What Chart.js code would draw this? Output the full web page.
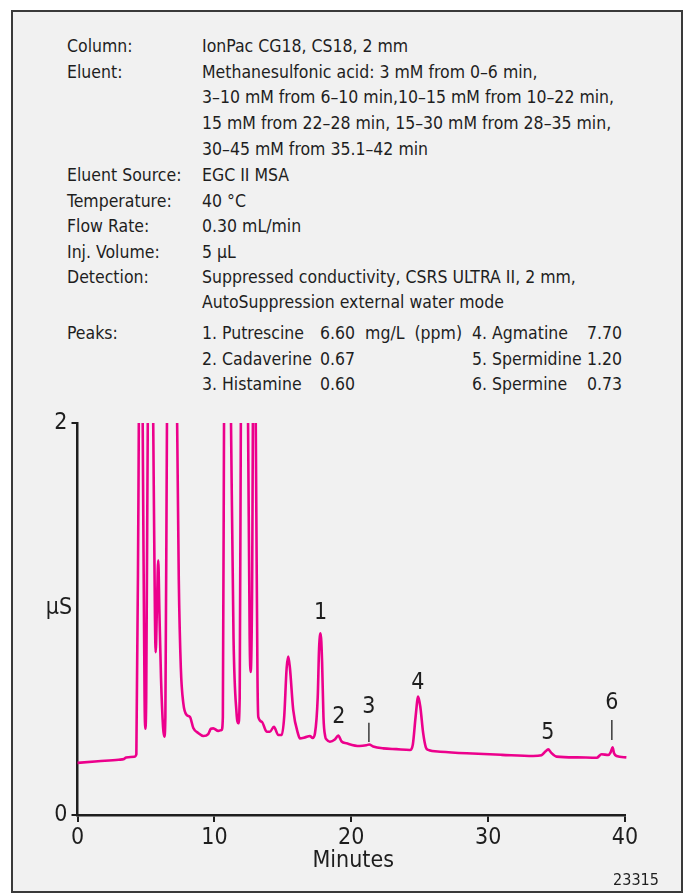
<!DOCTYPE html>
<html>
<head>
<meta charset="utf-8">
<script src="https://cdn.jsdelivr.net/npm/chart.js@4.4.1/dist/chart.umd.min.js"></script>
<style>
    html, body { margin: 0; padding: 0; background: #fff; }
    body { width: 686px; height: 894px; position: relative; overflow: hidden;
           font-family: 'Liberation Sans Narrow', 'DejaVu Sans Condensed', 'Roboto', sans-serif; color: #1e1e1e; }
    .frame { position: absolute; left: 11px; top: 10px; width: 668px; height: 879px;
             border: 2px solid #3a3a3a; background: #f1f1f1; }
    .info { position: absolute; font-size: 17.5px; line-height: 25.5px; white-space: nowrap; }
    .row { position: absolute; }
    #chartBox { position: absolute; left: 0; top: 0; width: 686px; height: 894px; }
</style>
</head>
<body>
<div class="frame"></div>

<div class="info" style="left:67px; top:34px;">
    <div class="row" style="top:0">Column:</div>
    <div class="row" style="top:25.5px">Eluent:</div>
    <div class="row" style="top:129px">Eluent Source:</div>
    <div class="row" style="top:154.5px">Temperature:</div>
    <div class="row" style="top:180px">Flow Rate:</div>
    <div class="row" style="top:205.5px">Inj. Volume:</div>
    <div class="row" style="top:231px">Detection:</div>
    <div class="row" style="top:287px">Peaks:</div>
</div>
<div class="info" style="left:202px; top:34px;">
    <div class="row" style="top:0">IonPac CG18, CS18, 2 mm</div>
    <div class="row" style="top:25.5px">Methanesulfonic acid: 3 mM from 0–6 min,</div>
    <div class="row" style="top:51px">3–10 mM from 6–10 min,10–15 mM from 10–22 min,</div>
    <div class="row" style="top:77px">15 mM from 22–28 min, 15–30 mM from 28–35 min,</div>
    <div class="row" style="top:103px">30–45 mM from 35.1–42 min</div>
    <div class="row" style="top:129px">EGC II MSA</div>
    <div class="row" style="top:154.5px">40 °C</div>
    <div class="row" style="top:180px">0.30 mL/min</div>
    <div class="row" style="top:205.5px">5 µL</div>
    <div class="row" style="top:231px">Suppressed conductivity, CSRS ULTRA II, 2 mm,</div>
    <div class="row" style="top:256px">AutoSuppression external water mode</div>
    <div class="row" style="top:287px">1. Putrescine</div>
    <div class="row" style="top:312.5px">2. Cadaverine</div>
    <div class="row" style="top:338px">3. Histamine</div>
</div>
<div class="info" style="left:320px; top:34px;">
    <div class="row" style="top:287px">6.60&nbsp; mg/L&nbsp; (ppm)</div>
    <div class="row" style="top:312.5px">0.67</div>
    <div class="row" style="top:338px">0.60</div>
</div>
<div class="info" style="left:472px; top:34px;">
    <div class="row" style="top:287px">4. Agmatine</div>
    <div class="row" style="top:312.5px">5. Spermidine</div>
    <div class="row" style="top:338px">6. Spermine</div>
</div>
<div class="info" style="left:587px; top:34px;">
    <div class="row" style="top:287px">7.70</div>
    <div class="row" style="top:312.5px">1.20</div>
    <div class="row" style="top:338px">0.73</div>
</div>

<div id="chartBox"><canvas id="chrom"></canvas></div>

<script>
// Хроматограмма: время (мин) и сигнал (мкСм)
const times = [
    0.0, 1.5, 3.0, 3.40, 3.55, 4.15, 4.30, 4.45, 4.6, 4.78, 4.90, 4.95, 5.02, 5.15, 5.33, 5.52,
    5.66, 5.71, 5.80, 5.90, 5.98, 6.10, 6.25, 6.34, 6.42, 6.55, 6.9, 7.25, 7.40, 7.55, 7.73, 7.98,
    8.22, 8.46, 8.82, 9.19, 9.55, 9.75, 9.92, 10.28, 10.53, 10.62, 10.72, 10.95, 11.2, 11.4, 11.62, 11.75,
    11.85, 11.95, 12.15, 12.45, 12.58, 12.65, 12.75, 12.9, 13.06, 13.15, 13.21, 13.46, 13.82, 14.06,
    14.35, 14.67, 14.92, 15.10, 15.28, 15.40, 15.52, 15.76, 16.13, 16.25, 16.62, 16.98, 17.18, 17.35,
    17.55, 17.65, 17.76, 17.87, 17.97, 18.10, 18.20, 18.44, 18.80, 19.05, 19.30, 19.66, 20.6, 21.1,
    21.31, 21.6, 22.34, 23.3, 24.29, 24.5, 24.7, 24.89, 25.05, 25.25, 25.45, 25.62, 26.5, 28.43,
    31.0, 33.29, 33.9, 34.2, 34.39, 34.6, 35.0, 36.5, 37.93, 38.29, 38.77, 38.95, 39.09, 39.2,
    39.38, 40.1
];
const signal = [
    0.266, 0.274, 0.282, 0.286, 0.293, 0.297, 0.31, 1.6, 3.5, 1.8, 0.6, 0.44, 0.6, 2.2, 3.5, 2.1,
    1.0, 0.83, 1.05, 1.30, 1.05, 0.7, 0.45, 0.40, 0.5, 2.2, 3.8, 2.2, 1.2, 0.75, 0.571, 0.51,
    0.50, 0.444, 0.418, 0.403, 0.413, 0.44, 0.442, 0.429, 0.434, 0.5, 2.3, 3.6, 2.1, 0.9, 0.52, 0.468,
    0.6, 2.3, 3.5, 2.1, 0.9, 0.73, 1.1, 3.0, 1.6, 0.7, 0.50, 0.476, 0.425, 0.425,
    0.45, 0.408, 0.408, 0.5, 0.75, 0.808, 0.75, 0.536, 0.41, 0.391, 0.396, 0.403, 0.393, 0.417,
    0.6, 0.85, 0.927, 0.78, 0.5, 0.40, 0.385, 0.374, 0.385, 0.405, 0.375, 0.366, 0.352, 0.356,
    0.36, 0.35, 0.340, 0.336, 0.332, 0.36, 0.5, 0.604, 0.55, 0.42, 0.345, 0.332, 0.323, 0.315,
    0.307, 0.301, 0.305, 0.325, 0.335, 0.318, 0.298, 0.294, 0.292, 0.310, 0.306, 0.32, 0.345, 0.315,
    0.301, 0.294
];

// Подписи пиков
const peakNames = ['1', '2', '3', '4', '5', '6'];
const peakTimes = [17.76, 19.10, 21.29, 24.87, 34.37, 39.04];
const peakLabelLevels = [1.03, 0.50, 0.551, 0.673, 0.42, 0.571];
// Пики с вертикальной чёрточкой под номером: [верх, низ]
const peakMarks = { 2: [0.471, 0.373], 5: [0.485, 0.383] };

const xTicks = [0, 10, 20, 30, 40];
const yTicks = [0, 2];

const FONT = "'Liberation Sans Narrow', 'DejaVu Sans Condensed', sans-serif";
const INK = '#1e1e1e';
const MAGENTA = '#ec008c';

const points = times.map((t, i) => ({ x: t, y: signal[i] }));

// Номера пиков, "µS", "Minutes" и код рисунка
const annotations = {
    id: 'annotations',
    afterDraw(chart) {
        const { ctx, scales: { x, y }, chartArea } = chart;
        ctx.save();
        ctx.fillStyle = INK;
        ctx.strokeStyle = INK;
        ctx.textAlign = 'center';
        ctx.textBaseline = 'middle';
        ctx.font = '23px ' + FONT;

        peakNames.forEach((name, i) => {
            const px = x.getPixelForValue(peakTimes[i]);
            ctx.fillText(name, px, y.getPixelForValue(peakLabelLevels[i]));
            const mark = peakMarks[i];
            if (mark) {
                ctx.lineWidth = 1.3;
                ctx.beginPath();
                ctx.moveTo(px, y.getPixelForValue(mark[0]));
                ctx.lineTo(px, y.getPixelForValue(mark[1]));
                ctx.stroke();
            }
        });

        ctx.fillText('µS', 59, y.getPixelForValue(1.056));
        ctx.fillText('Minutes', (chartArea.left + chartArea.right) / 2 + 2, chartArea.bottom + 46);
        ctx.font = '16px ' + FONT;
        ctx.fillText('23315', 636, chartArea.bottom + 66);
        ctx.restore();
    }
};

new Chart(document.getElementById('chrom'), {
    type: 'line',
    data: {
        datasets: [{
            data: points,
            borderColor: MAGENTA,
            borderWidth: 2.6,
            pointRadius: 0,
            fill: false,
            cubicInterpolationMode: 'monotone',
            clip: { left: 5, top: 0, right: 5, bottom: 5 }
        }]
    },
    options: {
        responsive: true,
        maintainAspectRatio: false,
        animation: false,
        layout: { padding: { left: 20, top: 423, right: 61, bottom: 29 } },
        plugins: { legend: { display: false }, tooltip: { enabled: false } },
        scales: {
            x: {
                type: 'linear',
                min: 0,
                max: 40,
                afterBuildTicks: (s) => { s.ticks = xTicks.map(v => ({ value: v })); },
                afterFit: (s) => { s.height = 50; },
                ticks: { color: INK, font: { family: FONT, size: 23 }, padding: 2, maxRotation: 0 },
                grid: { display: true, drawOnChartArea: false, tickLength: 7, color: INK, lineWidth: 2 },
                border: { display: true, color: INK, width: 2.5 }
            },
            y: {
                min: 0,
                max: 2,
                afterBuildTicks: (s) => { s.ticks = yTicks.map(v => ({ value: v })); },
                afterFit: (s) => { s.width = 57.5; },
                ticks: { color: INK, font: { family: FONT, size: 23 }, padding: 4 },
                grid: { display: true, drawOnChartArea: false, tickLength: 6, color: INK, lineWidth: 2 },
                border: { display: true, color: INK, width: 2.5 }
            }
        }
    },
    plugins: [annotations]
});
</script>
</body>
</html>
